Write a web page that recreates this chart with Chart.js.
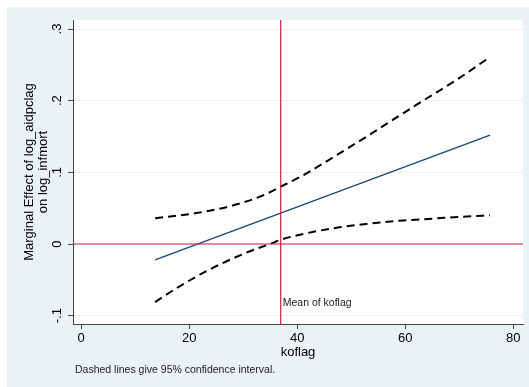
<!DOCTYPE html>
<html>
<head>
<meta charset="utf-8">
<script src="https://cdn.jsdelivr.net/npm/chart.js@4/dist/chart.umd.min.js"></script>
<style>
  html, body { margin: 0; padding: 0; background: #fff; }
  #wrap { width: 529px; height: 387px; }
</style>
</head>
<body>
<div id="wrap"><canvas id="chart"></canvas></div>
<script>
// marginal effect (straight line)
const koflagFit = [13.7, 75.7];
const effect = [-0.022, 0.152];

// upper 95% bound
const koflagUpper = [13.7, 21.1, 27.2, 33.4, 36.95, 41.1, 47.3, 53.5, 58.7, 63.3, 69.5, 75.7];
const upperCI = [0.036, 0.043, 0.052, 0.067, 0.080, 0.096, 0.124, 0.153, 0.178, 0.200, 0.229, 0.261];

// lower 95% bound
const koflagLower = [13.7, 18.0, 24.2, 30.3, 35.6, 36.95, 40.5, 46.7, 52.9, 59.0, 65.2, 71.4, 75.7];
const lowerCI = [-0.081, -0.060, -0.034, -0.013, 0.002, 0.006, 0.013, 0.022, 0.028, 0.0325, 0.0355, 0.0385, 0.040];

const meanKoflag = 36.95;
const zeroLine = 0;

const xTicks = [0, 20, 40, 60, 80];
const yTicks = [-0.1, 0, 0.1, 0.2, 0.3];
const yTickLabels = ["-.1", "0", ".1", ".2", ".3"];

const FONT = "'Liberation Sans', Arial, sans-serif";
const RED = "#d41a46";
const BG = "#eaf2f3";

const toPoints = (xs, ys) => xs.map((x, i) => ({ x: x, y: ys[i] }));

// graph region + white plot region
const background = {
  id: "background",
  beforeDraw(chart) {
    const { ctx, chartArea: a } = chart;
    ctx.save();
    ctx.fillStyle = "#fff";
    ctx.fillRect(0, 0, chart.width, chart.height);
    ctx.fillStyle = BG;
    ctx.fillRect(7, 7, chart.width - 7, chart.height - 7);
    ctx.fillStyle = "#fff";
    ctx.fillRect(a.left, a.top, a.right - a.left, a.bottom - a.top);
    ctx.restore();
  },
};

// reference lines at y=0 and x=mean, plus the notes
const refLines = {
  id: "refLines",
  afterDatasetsDraw(chart) {
    const { ctx, chartArea: a, scales } = chart;
    const px = scales.x.getPixelForValue(meanKoflag);
    const py = scales.y.getPixelForValue(zeroLine);
    ctx.save();
    ctx.strokeStyle = RED;
    ctx.lineWidth = 1.2;
    ctx.beginPath();
    ctx.moveTo(a.left, py);
    ctx.lineTo(a.right, py);
    ctx.moveTo(px, a.top);
    ctx.lineTo(px, a.bottom);
    ctx.stroke();

    ctx.fillStyle = "#222";
    ctx.font = "10.5px " + FONT;
    ctx.textBaseline = "middle";
    ctx.textAlign = "left";
    ctx.fillText("Mean of koflag", px + 2, a.bottom - 21);
    ctx.fillText("Dashed lines give 95% confidence interval.", 75, 370);
    ctx.restore();
  },
};

const dashed = {
  borderColor: "#000",
  borderWidth: 2,
  borderDash: [8, 5],
  pointRadius: 0,
  cubicInterpolationMode: "monotone",
  fill: false,
};

new Chart(document.getElementById("chart"), {
  type: "line",
  data: {
    datasets: [
      Object.assign({ label: "Upper 95% CI", data: toPoints(koflagUpper, upperCI) }, dashed),
      Object.assign({ label: "Lower 95% CI", data: toPoints(koflagLower, lowerCI) }, dashed),
      {
        label: "Marginal effect",
        data: toPoints(koflagFit, effect),
        borderColor: "#1a476f",
        borderWidth: 1.3,
        pointRadius: 0,
        fill: false,
      },
    ],
  },
  options: {
    responsive: true,
    maintainAspectRatio: false,
    animation: false,
    layout: { padding: { left: 7, top: 20, right: 6, bottom: 0 } },
    plugins: {
      legend: { display: false },
      tooltip: { enabled: false },
    },
    scales: {
      x: {
        type: "linear",
        min: -1.5,
        max: 81.8,
        afterBuildTicks: (s) => { s.ticks = xTicks.map((v) => ({ value: v })); },
        afterFit: (s) => { s.height = 63; },
        grid: { drawOnChartArea: false, drawTicks: true, tickLength: 5, tickColor: "#444", tickWidth: 1 },
        border: { display: true, color: "#444", width: 1 },
        ticks: { color: "#000", font: { family: FONT, size: 13 }, padding: 2, maxRotation: 0 },
        title: {
          display: true,
          text: "koflag",
          color: "#000",
          font: { family: FONT, size: 13 },
          padding: { top: 0, bottom: 27 },
        },
      },
      y: {
        type: "linear",
        min: -0.1116,
        max: 0.3126,
        afterBuildTicks: (s) => { s.ticks = yTicks.map((v) => ({ value: v })); },
        afterFit: (s) => { s.width = 66; },
        grid: { color: BG, lineWidth: 1, drawTicks: true, tickLength: 5, tickColor: "#444", tickWidth: 1 },
        border: { display: true, color: "#444", width: 1 },
        ticks: {
          color: "#000",
          font: { family: FONT, size: 13 },
          padding: 3,
          minRotation: 90,
          maxRotation: 90,
          crossAlign: "center",
          callback: (v) => {
            const i = yTicks.findIndex((t) => Math.abs(t - v) < 1e-9);
            return i >= 0 ? yTickLabels[i] : "";
          },
        },
        title: {
          display: true,
          text: ["Marginal Effect of log_aidpclag", "on log_infmort"],
          color: "#000",
          font: { family: FONT, size: 13, lineHeight: 1.08 },
          padding: { top: 15, bottom: 0 },
        },
      },
    },
  },
  plugins: [background, refLines],
});
</script>
</body>
</html>
